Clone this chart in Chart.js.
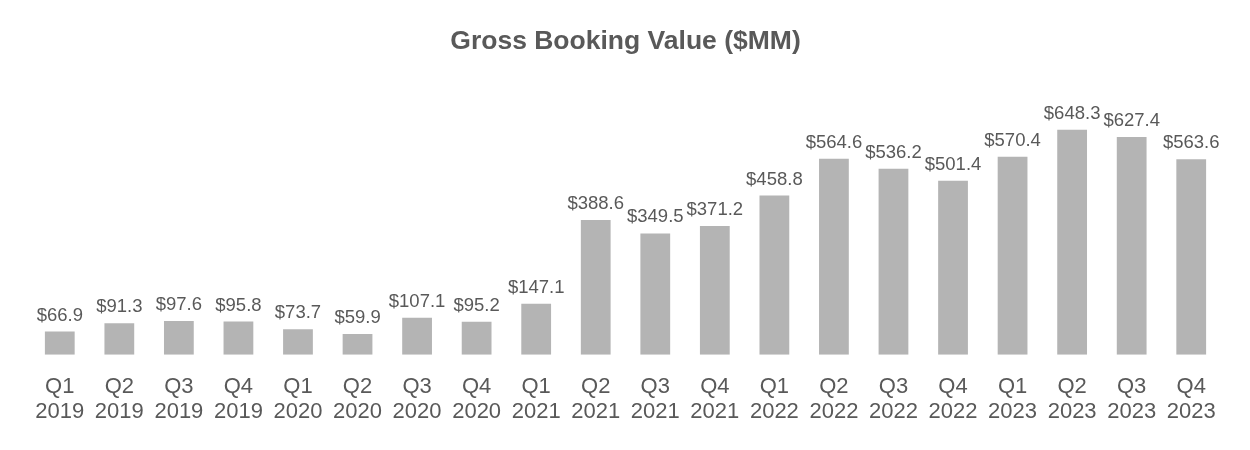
<!DOCTYPE html>
<html>
<head>
<meta charset="utf-8">
<script src="https://cdn.jsdelivr.net/npm/chart.js@4.4.1/dist/chart.umd.min.js"></script>
<style>
  html, body { margin: 0; padding: 0; background: #fff; }
  #wrap { width: 1250px; height: 450px; }
</style>
</head>
<body>
<div id="wrap"><canvas id="chart"></canvas></div>
<script>
const quarters = ['Q1', 'Q2', 'Q3', 'Q4', 'Q1', 'Q2', 'Q3', 'Q4', 'Q1', 'Q2',
    'Q3', 'Q4', 'Q1', 'Q2', 'Q3', 'Q4', 'Q1', 'Q2', 'Q3', 'Q4'];
const years = ['2019', '2019', '2019', '2019', '2020', '2020', '2020', '2020', '2021', '2021',
    '2021', '2021', '2022', '2022', '2022', '2022', '2023', '2023', '2023', '2023'];
const bookingValue = [66.9, 91.3, 97.6, 95.8, 73.7, 59.9, 107.1, 95.2, 147.1, 388.6,
    349.5, 371.2, 458.8, 564.6, 536.2, 501.4, 570.4, 648.3, 627.4, 563.6];

const textColor = '#595959';
const fontFamily = '"Liberation Sans", Arial, sans-serif';

// draws "$xx.x" above every bar
const valueLabels = {
    id: 'valueLabels',
    afterDatasetsDraw(chart) {
        const ctx = chart.ctx;
        const meta = chart.getDatasetMeta(0);
        ctx.save();
        ctx.font = `18.5px ${fontFamily}`;
        ctx.fillStyle = textColor;
        ctx.textAlign = 'center';
        ctx.textBaseline = 'alphabetic';
        meta.data.forEach((bar, i) => {
            ctx.fillText('$' + bookingValue[i].toFixed(1), bar.x, bar.y - 11);
        });
        ctx.restore();
    }
};

new Chart(document.getElementById('chart'), {
    type: 'bar',
    data: {
        labels: quarters.map((q, i) => [q, years[i]]),
        datasets: [{
            data: bookingValue,
            backgroundColor: '#b4b4b4',
            barPercentage: 0.5,
            categoryPercentage: 1.0,
        }]
    },
    options: {
        responsive: true,
        maintainAspectRatio: false,
        animation: false,
        layout: { padding: { left: 30, right: 29, top: 0, bottom: 6 } },
        plugins: {
            legend: { display: false },
            tooltip: { enabled: false },
            title: {
                display: true,
                text: 'Gross Booking Value ($MM)',
                color: textColor,
                font: { family: fontFamily, size: 26.5, weight: 'bold', lineHeight: 1.2 },
                padding: { top: 26, bottom: 54 },
            },
        },
        scales: {
            x: {
                grid: { display: false, drawTicks: false },
                border: { display: false },
                ticks: {
                    color: textColor,
                    font: { family: fontFamily, size: 22, lineHeight: 1.14 },
                    padding: 19.5,
                    autoSkip: false,
                    maxRotation: 0,
                },
            },
            y: {
                display: false,
                min: 0,
                max: 700,
            },
        },
    },
    plugins: [valueLabels],
});
</script>
</body>
</html>
